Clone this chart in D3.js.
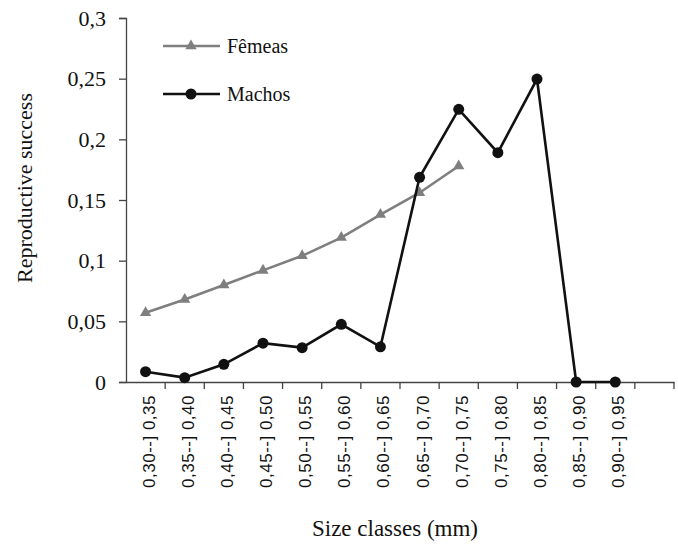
<!DOCTYPE html>
<html>
<head>
<meta charset="utf-8">
<script src="https://cdn.jsdelivr.net/npm/d3@7"></script>
<style>
  body { margin: 0; background: #fff; }
  svg { display: block; }
</style>
</head>
<body>
<svg id="chart"></svg>
<script>
const width = 678,
    height = 549;

// data
const categories = ["0,30--] 0,35", "0,35--] 0,40", "0,40--] 0,45", "0,45--] 0,50",
    "0,50--] 0,55", "0,55--] 0,60", "0,60--] 0,65", "0,65--] 0,70", "0,70--] 0,75",
    "0,75--] 0,80", "0,80--] 0,85", "0,85--] 0,90", "0,90--] 0,95"];
const femeas = [0.057, 0.068, 0.080, 0.092, 0.104, 0.119, 0.138, 0.156, 0.178];
const machos = [0.0085, 0.0036, 0.0146, 0.032, 0.0283, 0.0475, 0.029, 0.1687, 0.2247, 0.189, 0.2497, 0, 0];
const yTicks = [0, 0.05, 0.1, 0.15, 0.2, 0.25, 0.3];

const serif = "'Liberation Serif', 'Times New Roman', serif";
const sans = "'Liberation Sans', Arial, sans-serif";

const svg = d3.select("svg#chart")
    .attr("width", width)
    .attr("height", height);

const plotLeft = 126, plotRight = 674, plotTop = 18, plotBottom = 382;
// one empty slot after the last class, like the original axis
const nSlots = categories.length + 1;
const x = d3.scaleBand()
    .domain(d3.range(nSlots))
    .range([plotLeft, plotRight]);
const y = d3.scaleLinear()
    .domain([0, 0.3])
    .range([plotBottom, plotTop]);

// y axis
const yAxis = svg.append("g")
    .attr("transform", `translate(${plotLeft},0)`)
    .call(d3.axisLeft(y)
        .tickValues(yTicks)
        .tickSize(7)
        .tickPadding(13)
        .tickFormat(d => String(d).replace(".", ",")));
yAxis.selectAll("path, line").attr("stroke", "#444").attr("stroke-width", 1.3);
yAxis.selectAll("text")
    .attr("font-family", serif)
    .attr("font-size", 22)
    .attr("fill", "#111");

// x axis
const xAxis = svg.append("g")
    .attr("transform", `translate(0,${plotBottom})`)
    .call(d3.axisBottom(x)
        .tickSize(0)
        .tickPadding(0)
        .tickFormat(i => categories[i] || ""));
xAxis.select(".domain").attr("stroke", "#444").attr("stroke-width", 1.3);
xAxis.selectAll(".tick text")
    .attr("font-family", sans)
    .attr("font-size", 17)
    .attr("letter-spacing", 0.5)
    .attr("fill", "#111")
    .attr("text-anchor", "end")
    .attr("transform", "rotate(-90)")
    .attr("x", -13)
    .attr("y", 3)
    .attr("dy", "0.35em");
// boundary ticks between the classes
xAxis.selectAll("line.bound")
    .data(d3.range(1, nSlots + 1))
    .enter()
    .append("line")
    .classed("bound", true)
    .attr("x1", i => i < nSlots ? x(i) : plotRight)
    .attr("x2", i => i < nSlots ? x(i) : plotRight)
    .attr("y1", 0)
    .attr("y2", 7)
    .attr("stroke", "#444")
    .attr("stroke-width", 1.3);

const cx = (d, i) => x(i) + x.bandwidth() / 2;
const line = d3.line()
    .x((d, i) => cx(d, i))
    .y(d => y(d));

// Fêmeas
const gray = "#7f7f7f";
svg.append("path")
    .datum(femeas)
    .attr("fill", "none")
    .attr("stroke", gray)
    .attr("stroke-width", 2.6)
    .attr("d", line);
const tri = d3.symbol().type(d3.symbolTriangle).size(55);
svg.selectAll("path.tri")
    .data(femeas)
    .enter()
    .append("path")
    .classed("tri", true)
    .attr("d", tri)
    .attr("transform", (d, i) => `translate(${cx(d, i)},${y(d)})`)
    .attr("fill", gray);

// Machos
const dark = "#111";
svg.append("path")
    .datum(machos)
    .attr("fill", "none")
    .attr("stroke", dark)
    .attr("stroke-width", 2.6)
    .attr("d", line);
svg.selectAll("circle.dot")
    .data(machos)
    .enter()
    .append("circle")
    .classed("dot", true)
    .attr("cx", (d, i) => cx(d, i))
    .attr("cy", d => y(d))
    .attr("r", 5.5)
    .attr("fill", dark);

// legend
const legend = svg.append("g");
const legendData = [
    { name: "Fêmeas", color: gray, mark: "tri", y: 46 },
    { name: "Machos", color: dark, mark: "dot", y: 94 }
];
legendData.forEach(d => {
    legend.append("line")
        .attr("x1", 163).attr("x2", 220)
        .attr("y1", d.y).attr("y2", d.y)
        .attr("stroke", d.color)
        .attr("stroke-width", 2.6);
    if (d.mark === "tri") {
        legend.append("path")
            .attr("d", tri)
            .attr("transform", `translate(191,${d.y})`)
            .attr("fill", d.color);
    } else {
        legend.append("circle")
            .attr("cx", 191).attr("cy", d.y).attr("r", 5.5)
            .attr("fill", d.color);
    }
    legend.append("text")
        .attr("x", 227)
        .attr("y", d.y + 7)
        .attr("font-family", serif)
        .attr("font-size", 20)
        .attr("fill", "#111")
        .text(d.name);
});

// axis titles
svg.append("text")
    .attr("transform", "translate(32,188) rotate(-90)")
    .attr("text-anchor", "middle")
    .attr("font-family", serif)
    .attr("font-size", 22)
    .attr("fill", "#111")
    .text("Reproductive success");
svg.append("text")
    .attr("x", 395)
    .attr("y", 536)
    .attr("text-anchor", "middle")
    .attr("font-family", serif)
    .attr("font-size", 23)
    .attr("fill", "#111")
    .text("Size classes (mm)");
</script>
</body>
</html>
